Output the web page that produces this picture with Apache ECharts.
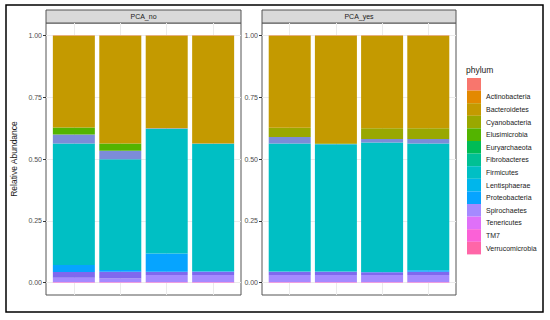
<!DOCTYPE html>
<html><head><meta charset="utf-8">
<script src="https://cdn.jsdelivr.net/npm/echarts@6/dist/echarts.min.js"></script>
<style>html,body{margin:0;padding:0;background:#fff}#c{width:550px;height:320px}</style>
</head><body><div id="c"></div>
<script>
// ---- data ----
const facets = ['PCA_no', 'PCA_yes'];
const barsPerFacet = [4, 4];
// legend order (top of stack first), ggplot hue palette
const phyla = [' ', 'Actinobacteria', 'Bacteroidetes', 'Cyanobacteria', 'Elusimicrobia', 'Euryarchaeota',
  'Fibrobacteres', 'Firmicutes', 'Lentisphaerae', 'Proteobacteria', 'Spirochaetes', 'Tenericutes', 'TM7', 'Verrucomicrobia'];
const phylaColors = ['#F8766D', '#E38900', '#C49A00', '#99A800', '#53B400', '#00BC56',
  '#00C094', '#00BFC4', '#00B6EB', '#06A4FF', '#A58AFF', '#DF70F8', '#FB61D7', '#FF66A8'];
// relative abundance per bar: PCA_no bars 1-4, then PCA_yes bars 1-4
const unassigned      = [0.001, 0.001, 0.001, 0.001, 0.001, 0.001, 0.001, 0.001];
const actinobacteria  = [0.001, 0.001, 0.001, 0.001, 0.001, 0.001, 0.001, 0.001];
const bacteroidetes   = [0.371, 0.435, 0.374, 0.435, 0.372, 0.434, 0.374, 0.374];
const cyanobacteria   = [0, 0, 0, 0, 0.037, 0.003, 0.043, 0.043];
const elusimicrobia   = [0.028, 0.030, 0, 0, 0, 0, 0, 0];
const euryarchaeota   = [0, 0, 0, 0, 0, 0, 0, 0];
const fibrobacteres   = [0, 0, 0, 0, 0, 0, 0, 0];
const firmicutes      = [0.492, 0.448, 0.504, 0.516, 0.518, 0.515, 0.524, 0.513];
const lentisphaerae   = [0, 0, 0, 0, 0, 0, 0, 0];
const proteobacteria  = [0.028, 0.007, 0.074, 0.002, 0.001, 0.001, 0.001, 0.006];
const spirochaetes    = [0.017, 0.014, 0.028, 0.028, 0.028, 0.028, 0.028, 0.028];
const tenericutes     = [0.001, 0.001, 0.001, 0.001, 0.001, 0.001, 0.001, 0.001];
const tm7             = [0.001, 0.001, 0.001, 0.001, 0.001, 0.001, 0.001, 0.001];
const verrucomicrobia = [0.001, 0.001, 0.001, 0.001, 0.001, 0.001, 0.001, 0.001];
// blended thin slices seen in the picture (drawn as extra Spirochaetes layers)
const spiroUpperBand  = [0.023, 0.027, 0.013, 0.013, 0.013, 0.013, 0.011, 0.013];
const mixedBand       = [0.036, 0.034, 0.002, 0.001, 0.026, 0.001, 0.014, 0.018];
const yTicks = [0, 0.25, 0.5, 0.75, 1];
const yMinorTicks = [0.125, 0.375, 0.625, 0.875];

// stacking order bottom -> top
const layers = [
  {name: 'Verrucomicrobia', v: verrucomicrobia, c: phylaColors[13]},
  {name: 'TM7', v: tm7, c: phylaColors[12]},
  {name: 'Tenericutes', v: tenericutes, c: phylaColors[11]},
  {name: 'Spirochaetes', v: spirochaetes, c: phylaColors[10]},
  {name: 'Spirochaetes', v: spiroUpperBand, c: '#8068EE'},
  {name: 'Proteobacteria', v: proteobacteria, c: phylaColors[9]},
  {name: 'Lentisphaerae', v: lentisphaerae, c: phylaColors[8]},
  {name: 'Firmicutes', v: firmicutes, c: phylaColors[7]},
  {name: 'Spirochaetes', v: mixedBand, c: '#7C8CD8'},
  {name: 'Fibrobacteres', v: fibrobacteres, c: phylaColors[6]},
  {name: 'Euryarchaeota', v: euryarchaeota, c: phylaColors[5]},
  {name: 'Elusimicrobia', v: elusimicrobia, c: phylaColors[4]},
  {name: 'Cyanobacteria', v: cyanobacteria, c: phylaColors[3]},
  {name: 'Bacteroidetes', v: bacteroidetes, c: phylaColors[2]},
  {name: 'Actinobacteria', v: actinobacteria, c: phylaColors[1]},
  {name: ' ', v: unassigned, c: phylaColors[0]}
];

const FONT = 'Liberation Sans, Arial, sans-serif';
const panels = [{left: 46, width: 195}, {left: 262, width: 194}];
const panelTop = 23, panelH = 272;

const grids = [], xAxes = [], yAxes = [], series = [], graphics = [];
facets.forEach((f, p) => {
  grids.push({left: panels[p].left, top: panelTop, width: panels[p].width, height: panelH,
    show: true, backgroundColor: '#fff', borderColor: '#555', borderWidth: 1});
  const n = barsPerFacet[p];
  const pos = Array.from({length: n}, (_, i) => i + 1);
  xAxes.push({type: 'value', gridIndex: p, min: 0.4, max: n + 0.6,
    axisLine: {show: false}, axisTick: {show: false, customValues: pos},
    axisLabel: {show: false, customValues: pos},
    splitLine: {show: true, lineStyle: {color: '#EBEBEB', width: 1}}});
  yAxes.push({type: 'value', gridIndex: p, min: -0.05, max: 1.05,
    axisLine: {show: false},
    axisTick: {show: true, length: 3, customValues: yTicks, lineStyle: {color: '#333'}},
    axisLabel: {show: true, customValues: yTicks, margin: 4, fontSize: 7, color: '#4D4D4D', fontFamily: FONT,
      formatter: v => v.toFixed(2)},
    splitLine: {show: true, lineStyle: {color: '#EBEBEB', width: 1}},
    name: p === 0 ? 'Relative Abundance' : '', nameLocation: 'middle', nameGap: 28,
    nameTextStyle: {fontSize: 8.5, color: '#1A1A1A', fontFamily: FONT}});
  graphics.push({type: 'rect', shape: {x: panels[p].left, y: 10, width: panels[p].width, height: 13},
    style: {fill: '#D9D9D9', stroke: '#555', lineWidth: 1}});
  graphics.push({type: 'text', x: panels[p].left + panels[p].width / 2, y: 16.5,
    style: {text: f, fill: '#1A1A1A', font: '7px ' + FONT, textAlign: 'center', textVerticalAlign: 'middle'}});
});
// minor y grid lines
facets.forEach((f, p) => {
  yAxes.push({type: 'value', gridIndex: p, min: -0.05, max: 1.05, position: 'left',
    axisLine: {show: false}, axisTick: {show: false, customValues: yMinorTicks},
    axisLabel: {show: false, customValues: yMinorTicks},
    splitLine: {show: true, lineStyle: {color: '#F2F2F2', width: 0.6}}, z: -1});
});

let offset = 0;
facets.forEach((f, p) => {
  const n = barsPerFacet[p];
  layers.forEach(L => {
    const vals = L.v.slice(offset, offset + n);
    series.push({type: 'bar', name: L.name, xAxisIndex: p, yAxisIndex: p, stack: 'facet' + p,
      barWidth: 42, clip: false, encode: {x: 1, y: 0},
      itemStyle: {color: L.c}, emphasis: {disabled: true},
      data: vals.map((v, i) => [v, i + 1])});
  });
  offset += n;
});

// outer frame
graphics.push({type: 'rect', shape: {x: 6, y: 5, width: 537, height: 307},
  style: {fill: 'none', stroke: '#000', lineWidth: 1.5}, z: 100});

const chart = echarts.init(document.getElementById('c'), null, {renderer: 'svg'});
chart.setOption({
  animation: false,
  textStyle: {fontFamily: FONT},
  grid: grids, xAxis: xAxes, yAxis: yAxes, series: series, graphic: graphics,
  legend: {
    orient: 'vertical', left: 467, top: 78, padding: 0, itemWidth: 14, itemHeight: 12.6, itemGap: 0,
    icon: 'rect', selectedMode: false,
    textStyle: {fontSize: 7, color: '#1A1A1A', fontFamily: FONT},
    data: phyla.map((nm, i) => ({name: nm, itemStyle: {color: phylaColors[i]}}))
  },
  title: {text: 'phylum', left: 466, top: 65, padding: 0, textStyle: {fontSize: 8.5, fontWeight: 'normal', color: '#1A1A1A', fontFamily: FONT}}
});
</script></body></html>
